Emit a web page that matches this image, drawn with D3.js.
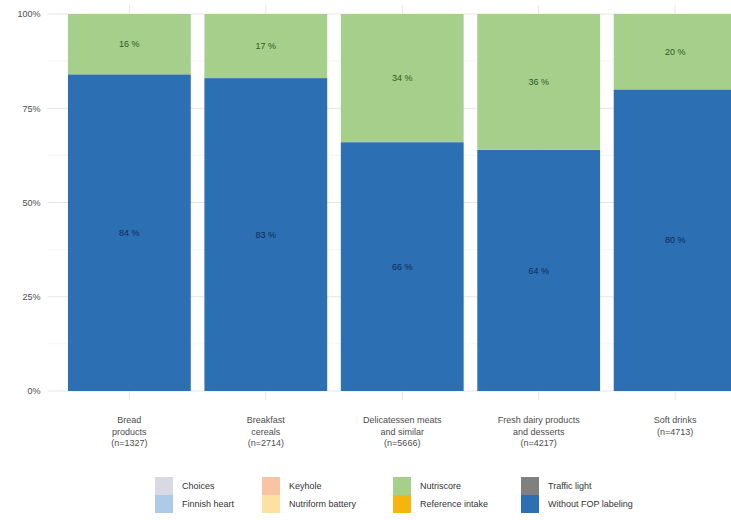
<!DOCTYPE html>
<html>
<head>
<meta charset="utf-8">
<script src="https://cdn.jsdelivr.net/npm/d3@7"></script>
<style>
  html, body { margin: 0; padding: 0; background: #fff; }
  svg { display: block; font-family: "Liberation Sans", Arial, Helvetica, sans-serif; }
</style>
</head>
<body>
<svg id="chart" width="731" height="520"></svg>
<script>
// Food categories and sample sizes
const categoryLines = [
  ["Bread", "products"],
  ["Breakfast", "cereals"],
  ["Delicatessen meats", "and similar"],
  ["Fresh dairy products", "and desserts"],
  ["Soft drinks"]
];
const sampleSizes = [1327, 2714, 5666, 4217, 4713];

// Share of products (%) per front-of-pack labelling scheme
const withoutFop = [84, 83, 66, 64, 80];
const nutriscore = [16, 17, 34, 36, 20];

// Legend entries (all schemes in the survey)
const legendKeys = [
  "Choices", "Finnish heart", "Keyhole", "Nutriform battery",
  "Nutriscore", "Reference intake", "Traffic light", "Without FOP labeling"
];
const legendColors = [
  "#d9d9e5", "#aecbe6", "#f8c4a3", "#fde1a0",
  "#a6cf8c", "#f6b40e", "#808080", "#2c6fb3"
];

const yTicks = [0, 0.25, 0.5, 0.75, 1];
const yTickLabels = ["0%", "25%", "50%", "75%", "100%"];

const svg = d3.select("#chart");
const color = d3.scaleOrdinal().domain(legendKeys).range(legendColors);
const labelColor = { "Nutriscore": "#2d5a22", "Without FOP labeling": "#0d2a52" };

const rows = categoryLines.map((lines, i) => ({
  id: i,
  lines: lines,
  n: sampleSizes[i],
  "Without FOP labeling": withoutFop[i] / 100,
  "Nutriscore": nutriscore[i] / 100
}));

const x = d3.scaleBand()
  .domain(rows.map(d => d.id))
  .range([47.5, 757])
  .paddingInner(0.1)
  .paddingOuter(0.15);

const y = d3.scaleLinear().domain([0, 1]).range([391, 14]);

// Grid: major and minor horizontal lines
const grid = svg.append("g");
const minor = [0.125, 0.375, 0.625, 0.875];
grid.selectAll("line.minor").data(minor).join("line")
  .attr("x1", 47.5).attr("x2", 757)
  .attr("y1", d => y(d)).attr("y2", d => y(d))
  .attr("stroke", "#f0f0f0").attr("stroke-width", 0.6);
grid.selectAll("line.major").data(yTicks).join("line")
  .attr("x1", 47.5).attr("x2", 757)
  .attr("y1", d => y(d)).attr("y2", d => y(d))
  .attr("stroke", "#e6e6e6").attr("stroke-width", 1);
grid.selectAll("line.vert").data(rows).join("line")
  .attr("x1", d => x(d.id) + x.bandwidth() / 2)
  .attr("x2", d => x(d.id) + x.bandwidth() / 2)
  .attr("y1", 5).attr("y2", 400)
  .attr("stroke", "#e6e6e6").attr("stroke-width", 1);

// Stacked bars
const stackKeys = ["Without FOP labeling", "Nutriscore"];
const series = d3.stack().keys(stackKeys)(rows);

const layers = svg.append("g").selectAll("g").data(series).join("g")
  .attr("fill", d => color(d.key));
layers.selectAll("rect").data(d => d).join("rect")
  .attr("x", d => x(d.data.id))
  .attr("width", x.bandwidth())
  .attr("y", d => y(d[1]))
  .attr("height", d => y(d[0]) - y(d[1]));

// Percentage labels centred in each segment
const labels = svg.append("g").selectAll("g").data(series).join("g")
  .attr("fill", d => labelColor[d.key]);
labels.selectAll("text").data(d => d).join("text")
  .attr("x", d => x(d.data.id) + x.bandwidth() / 2)
  .attr("y", d => (y(d[0]) + y(d[1])) / 2)
  .attr("dy", "0.35em")
  .attr("text-anchor", "middle")
  .attr("font-size", 9)
  .text(d => Math.round((d[1] - d[0]) * 100) + " %");

// Y axis
const yAxis = d3.axisLeft(y).tickValues(yTicks)
  .tickFormat((d, i) => yTickLabels[i]).tickSize(0).tickPadding(7);
const ya = svg.append("g").attr("transform", "translate(47.5,0)").call(yAxis);
ya.select(".domain").remove();
ya.selectAll("text").attr("fill", "#4d4d4d").attr("font-size", 9)
  .style("font-family", "Liberation Sans, Arial, sans-serif");

// X axis labels (multi-line)
const xl = svg.append("g").selectAll("text").data(rows).join("text")
  .attr("x", d => x(d.id) + x.bandwidth() / 2)
  .attr("y", 423)
  .attr("text-anchor", "middle")
  .attr("fill", "#4d4d4d")
  .attr("font-size", 9);
xl.each(function (d) {
  const t = d3.select(this);
  const lines = d.lines.concat(["(n=" + d.n + ")"]);
  lines.forEach((s, i) => {
    t.append("tspan").attr("x", x(d.id) + x.bandwidth() / 2)
      .attr("dy", i === 0 ? 0 : 11.5).text(s);
  });
});

// Legend: 4 columns x 2 rows, column-major order
const colX = [155, 262, 393, 521];
const rowY = [477, 495];
const lg = svg.append("g").selectAll("g").data(legendKeys).join("g")
  .attr("transform", (d, i) => `translate(${colX[Math.floor(i / 2)]},${rowY[i % 2]})`);
lg.append("rect").attr("width", 18).attr("height", 18).attr("fill", d => color(d));
lg.append("text").attr("x", 27).attr("y", 9).attr("dy", "0.35em")
  .attr("fill", "#333").attr("font-size", 9).text(d => d);
</script>
</body>
</html>
